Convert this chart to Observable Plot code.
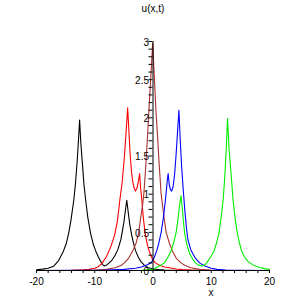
<!DOCTYPE html>
<html>
<head>
<meta charset="utf-8">
<script src="https://cdn.jsdelivr.net/npm/d3@7"></script>
<script src="https://cdn.jsdelivr.net/npm/@observablehq/plot@0.6"></script>
<style>
  html, body { margin: 0; padding: 0; background: #fff; }
</style>
</head>
<body>
<div id="chart"></div>
<script>
// Tick values and labels
const xTicks = [-20,-18,-16,-14,-12,-10,-8,-6,-4,-2,0,2,4,6,8,10,12,14,16,18,20];
const xTickLabels = [-20,-10,0,10,20];
const yTicks = [0,0.1,0.2,0.3,0.4,0.5,0.6,0.7,0.8,0.9,1,1.1,1.2,1.3,1.4,1.5,1.6,1.7,1.8,1.9,2,2.1,2.2,2.3,2.4,2.5,2.6,2.7,2.8,2.9,3];
const yTickLabels = [0,0.5,1,1.5,2,2.5,3];
const titleText = "u(x,t)";
const xLabelText = "x";

// Series values: [x, u]
const blackCurve = [
  [-20,0.01],[-19,0.018],[-18,0.03],[-17,0.06],[-16.2,0.13],[-15.4,0.25],[-14.9,0.35],[-14.5,0.48],
  [-14.1,0.65],[-13.6,0.92],[-13.3,1.15],[-13.0,1.45],[-12.8,1.7],[-12.6,1.97],[-12.4,1.68],[-12.1,1.38],
  [-11.85,1.12],[-11.55,0.92],[-11.2,0.7],[-10.7,0.48],[-10.2,0.33],[-9.8,0.25],[-9.4,0.18],[-9.0,0.12],
  [-8.7,0.08],[-8.4,0.06],[-8.0,0.07],[-7.5,0.1],[-7.0,0.14],[-6.5,0.2],[-6.0,0.28],[-5.5,0.41],
  [-5.0,0.63],[-4.75,0.78],[-4.5,0.92],[-4.25,0.76],[-4.0,0.61],[-3.7,0.48],[-3.35,0.36],[-3.0,0.26],
  [-2.5,0.17],[-2.0,0.11],[-1.5,0.07],[-0.9,0.04],[0,0.02],[1,0.012],[2,0.007],[4,0.003],[7,0.001],[10,0],[20,0]
];
const redCurve = [
  [-20,0],[-14,0.003],[-12,0.008],[-11,0.015],[-10,0.03],[-9.4,0.05],[-8.8,0.09],[-8.0,0.18],
  [-7.3,0.3],[-6.6,0.46],[-6.1,0.65],[-5.7,0.92],[-5.3,1.15],[-4.95,1.45],[-4.65,1.78],[-4.35,2.13],
  [-4.15,1.85],[-3.95,1.55],[-3.7,1.3],[-3.45,1.15],[-3.2,1.07],[-3.0,1.04],[-2.75,1.08],[-2.5,1.17],
  [-2.3,1.27],[-2.15,1.1],[-1.95,0.95],[-1.65,0.68],[-1.33,0.48],[-1.0,0.35],[-0.64,0.25],[-0.1,0.15],
  [0.4,0.1],[1.2,0.065],[2,0.045],[2.8,0.035],[4,0.02],[5,0.012],[6.5,0.006],[8,0.003],[10,0],[20,0]
];
const brownCurve = [
  [-20,0],[-12,0.002],[-10,0.006],[-8,0.015],[-6.5,0.035],[-5.5,0.065],[-4.9,0.1],[-4.2,0.16],
  [-3.46,0.26],[-2.9,0.36],[-2.44,0.5],[-2.1,0.7],[-1.8,0.85],[-1.58,1.0],[-1.3,1.3],[-1.0,1.68],
  [-0.7,2.1],[-0.4,2.5],[-0.05,2.98],[0.25,2.5],[0.5,2.1],[0.75,1.8],[1.05,1.4],[1.4,1.0],
  [1.8,0.75],[2.26,0.5],[2.8,0.36],[3.3,0.26],[4.0,0.16],[4.8,0.1],[5.5,0.065],[6.5,0.035],
  [8,0.015],[10,0.006],[12,0.002],[20,0]
];
const blueCurve = [
  [-20,0],[-8,0.005],[-5,0.015],[-3,0.03],[-2,0.045],[-1,0.075],[-0.3,0.1],[0.2,0.17],
  [0.65,0.26],[1.0,0.36],[1.4,0.5],[1.8,0.7],[2.1,0.9],[2.3,1.05],[2.45,1.18],[2.6,1.27],
  [2.8,1.12],[3.0,1.06],[3.2,1.04],[3.45,1.1],[3.7,1.25],[3.95,1.5],[4.2,1.8],[4.45,2.1],
  [4.65,1.75],[4.9,1.38],[5.2,1.05],[5.45,0.8],[5.75,0.55],[6.0,0.4],[6.5,0.27],[7.2,0.17],
  [8,0.1],[8.9,0.06],[10,0.03],[11,0.015],[12.5,0.006],[15,0.002],[20,0]
];
const greenCurve = [
  [-20,0],[-5,0],[-2,0.003],[0,0.015],[0.55,0.04],[1.3,0.07],[1.97,0.1],[2.6,0.18],
  [3.12,0.26],[3.6,0.38],[3.98,0.5],[4.3,0.68],[4.55,0.85],[4.8,0.98],[5.05,0.8],[5.25,0.62],
  [5.45,0.48],[5.85,0.33],[6.3,0.22],[6.8,0.15],[7.3,0.1],[7.8,0.07],[8.5,0.06],[9.0,0.08],
  [9.47,0.13],[10.0,0.19],[10.5,0.26],[10.9,0.36],[11.3,0.48],[11.7,0.7],[12.04,0.92],[12.3,1.2],
  [12.55,1.55],[12.8,1.99],[13.05,1.6],[13.35,1.32],[13.75,0.92],[14.1,0.68],[14.5,0.48],[14.85,0.36],
  [15.2,0.26],[15.7,0.18],[16.3,0.12],[17.2,0.07],[18.3,0.04],[19.2,0.025],[20,0.015]
];

const series = [
  {data: blackCurve, color: "#000000"},
  {data: redCurve, color: "#ff0000"},
  {data: brownCurve, color: "#a83232"},
  {data: blueCurve, color: "#0000ff"},
  {data: greenCurve, color: "#00ee00"}
];

const curveMarks = series.map(s =>
  Plot.line(s.data, {x: d => d[0], y: d => d[1], stroke: s.color, strokeWidth: 1.1, curve: "linear"})
);

const chart = Plot.plot({
  width: 305,
  height: 305,
  marginLeft: 36,
  marginRight: 36,
  marginTop: 41,
  marginBottom: 35,
  x: {domain: [-20, 20]},
  y: {domain: [0, 3], axis: null},
  style: {fontFamily: "'Liberation Sans', Arial, Helvetica, sans-serif", fontSize: "10px", background: "#fff", color: "#000"},
  marks: [
    ...curveMarks,
    Plot.ruleY([0], {stroke: "#000", strokeWidth: 1}),
    Plot.ruleX([0], {y1: 0, y2: 3, stroke: "#000", strokeWidth: 1}),
    Plot.axisX({ticks: xTicks, tickSize: 3, tickPadding: 4, tickFormat: d => xTickLabels.includes(d) ? String(d) : "", fontSize: 10, label: null}),
    Plot.ruleY(yTicks, {y: d => d, x1: 0, x2: 0, insetLeft: -4, stroke: "#000", strokeWidth: 1}),
    Plot.text(yTickLabels, {x: 0, y: d => d, text: d => String(d), textAnchor: "end", dx: -4, dy: 1, fontSize: 10, fill: "#000"}),
    Plot.text([titleText], {frameAnchor: "top", lineAnchor: "middle", dy: -33, fontSize: 10, fill: "#000"}),
    Plot.text([xLabelText], {frameAnchor: "top", lineAnchor: "middle", dx: 58, dy: 251, fontSize: 10, fill: "#000"})
  ]
});
document.getElementById("chart").appendChild(chart);
</script>
</body>
</html>
